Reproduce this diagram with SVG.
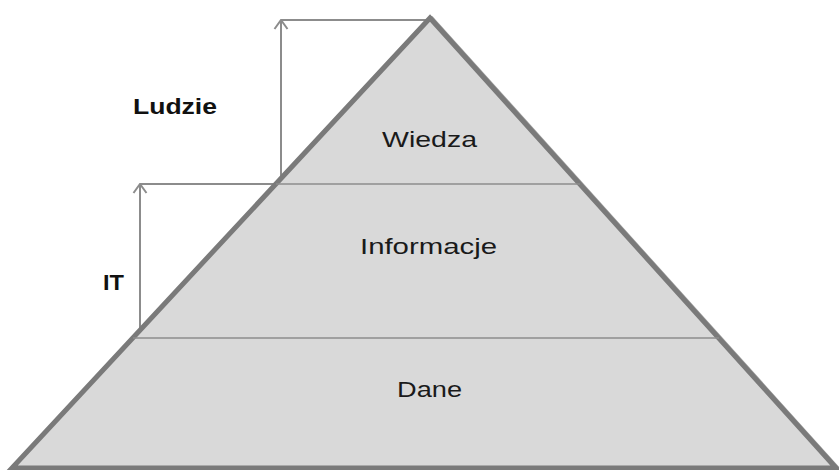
<svg xmlns="http://www.w3.org/2000/svg" width="839" height="470" viewBox="0 0 839 470">
<style>
.conn{stroke:#8c8c8c;stroke-width:2;fill:none}
.div{stroke:#8c8c8c;stroke-width:1.5;fill:none}
.lbl{font-family:"Liberation Sans",Arial,sans-serif;font-size:22px;fill:#1a1a1a}
.side{font-family:"Liberation Sans",Arial,sans-serif;font-size:22px;font-weight:bold;fill:#111}
</style>
<defs>
<marker id="arr" viewBox="0 0 12 16" refX="11" refY="8" markerWidth="12" markerHeight="16" markerUnits="userSpaceOnUse" orient="auto">
<path d="M2,1.5 L11,8 L2,14.5" fill="none" stroke="#8c8c8c" stroke-width="2"/>
</marker>
</defs>
<rect width="839" height="470" fill="#fff"/>
<g id="connectors">
<line class="conn" x1="281" y1="178" x2="281" y2="20" marker-end="url(#arr)"/>
<line class="conn" x1="281" y1="20" x2="426" y2="20"/>
<line class="conn" x1="140" y1="330" x2="140" y2="184" marker-end="url(#arr)"/>
<line class="conn" x1="140" y1="184" x2="277" y2="184"/>
</g>
<g id="pyramid">
<polygon points="430,18 836,468 12,468" fill="#d9d9d9" stroke="#4a4a4a" stroke-width="6" stroke-linejoin="round" opacity="0.5" transform="translate(1,1)"/>
<polygon points="430,18 836,468 12,468" fill="#d9d9d9" stroke="#7a7a7a" stroke-width="5" stroke-linejoin="miter"/>
</g>
<g id="wiedza">
<line class="div" x1="276" y1="184" x2="580" y2="184"/>
<text class="lbl" x="382" y="147" textLength="95" lengthAdjust="spacingAndGlyphs">Wiedza</text>
</g>
<g id="informacje">
<line class="div" x1="133" y1="338" x2="719" y2="338"/>
<text class="lbl" x="360" y="254" textLength="137" lengthAdjust="spacingAndGlyphs">Informacje</text>
</g>
<g id="dane">
<text class="lbl" x="397" y="397" textLength="65" lengthAdjust="spacingAndGlyphs">Dane</text>
</g>
<g id="ludzie">
<text class="side" x="133" y="114" textLength="84" lengthAdjust="spacingAndGlyphs">Ludzie</text>
</g>
<g id="it">
<text class="side" x="103" y="290" textLength="21" lengthAdjust="spacingAndGlyphs">IT</text>
</g>
</svg>
